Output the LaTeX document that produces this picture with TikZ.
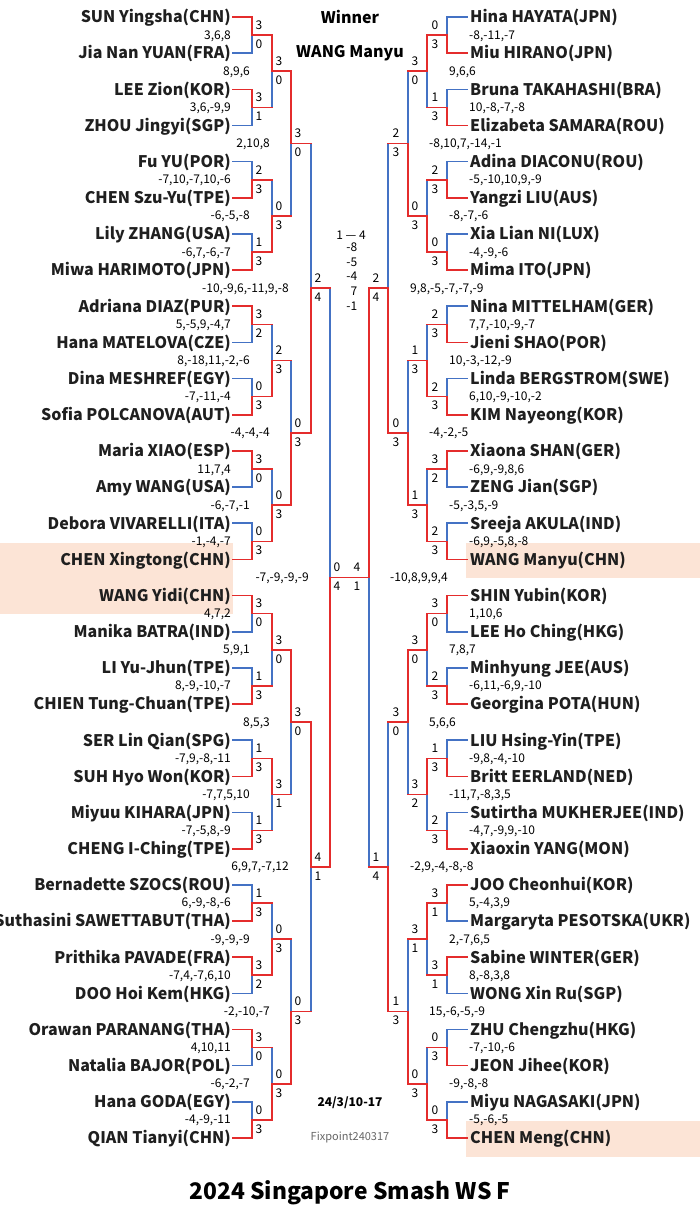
\documentclass[tikz,border=0pt]{standalone}
\usepackage{fontspec}
\setmainfont{Noto Sans CJK JP}
\definecolor{wc}{RGB}{228,44,44}
\definecolor{lc}{RGB}{68,114,196}
\definecolor{hl}{RGB}{252,228,214}
\tikzset{
 win/.style={draw=wc,line width=1.6pt,line cap=rect},
 lose/.style={draw=lc,line width=1.6pt,line cap=rect},
 pname/.style={font=\bfseries\fontsize{16}{16}\selectfont,inner sep=0pt,text=black!88},
 gsc/.style={font=\fontsize{12}{12}\selectfont,inner sep=0pt},
 lab/.style={font=\fontsize{12}{12}\selectfont,inner sep=0pt},
 head/.style={font=\bfseries\fontsize{16}{16}\selectfont,inner sep=0pt},
}
\newcommand\Round[5]{%
  \foreach \a/\b/\g [count=\m from 0] in {#5} {
    \pgfmathsetmacro\sp{36.1613*2^(#1-1)}
    \pgfmathsetmacro\ya{17+36.1613*(2^#1*\m+(2^(#1-1)-1)/2)}
    \pgfmathsetmacro\yb{\ya+\sp}
    \pgfmathsetmacro\j{\ya+\sp/2}
    \ifnum\a>\b \def\ct{win}\def\cb{lose}\else\def\ct{lose}\def\cb{win}\fi
    \ifnum#1=1
      \draw[\ct] (#2,\ya) -- (#3,\ya) -- (#3,\j);
      \draw[\cb] (#2,\yb) -- (#3,\yb) -- (#3,\j);
    \else
      \draw[\ct] (#3,\ya) -- (#3,\j);
      \draw[\cb] (#3,\yb) -- (#3,\j);
      \draw[win] (#2,\ya) -- (#3,\ya);
      \draw[win] (#2,\yb) -- (#3,\yb);
    \fi
    \if#4L
      \node[lab] (#4t#1-\m) at (#3+7,\j-10) {\a};
      \node[lab] (#4b#1-\m) at (#3+7,\j+9) {\b};
      \node[gsc,anchor=base east] (#4g#1-\m) at (#2-2,\j+4) {\g};
    \else
      \node[lab] (#4t#1-\m) at (#3-12,\j-10) {\a};
      \node[lab] (#4b#1-\m) at (#3-12,\j+9) {\b};
      \node[gsc,anchor=base west] (#4g#1-\m) at (#2+2,\j+4) {\g};
    \fi
  }%
}
\begin{document}
\begin{tikzpicture}[x=1pt,y=-1pt]
\useasboundingbox (0,0) rectangle (700,1230);
% highlighted semifinalists
\fill[hl] (0,543) rectangle (233,614);
\fill[hl] (466,543) rectangle (700,578);
\fill[hl] (466,1121) rectangle (700,1157);
% left bracket
\Round{1}{233}{252}{L}{3/0/{3,6,8},3/1/{3,6,-9,9},2/3/{-7,10,-7,10,-6},1/3/{-6,7,-6,-7},3/2/{5,-5,9,-4,7},0/3/{-7,-11,-4},3/0/{11,7,4},0/3/{-1,-4,-7},3/0/{4,7,2},1/3/{8,-9,-10,-7},1/3/{-7,9,-8,-11},1/3/{-7,-5,8,-9},1/3/{6,-9,-8,-6},3/2/{-7,4,-7,6,10},3/0/{4,10,11},0/3/{-4,-9,-11}}
\Round{2}{252}{272}{L}{3/0/{8,9,6},0/3/{-6,-5,-8},2/3/{8,-18,11,-2,-6},0/3/{-6,-7,-1},3/0/{5,9,1},3/1/{-7,7,5,10},0/3/{-9,-9,-9},0/3/{-6,-2,-7}}
\Round{3}{272}{291}{L}{3/0/{2,10,8},0/3/{-4,-4,-4},3/0/{8,5,3},0/3/{-2,-10,-7}}
\Round{4}{291}{311}{L}{2/4/{-10,-9,6,-11,9,-8},4/1/{6,9,7,-7,12}}
\Round{5}{311}{330}{L}{0/4/{-7,-9,-9,-9}}
% right bracket
\Round{1}{467}{447}{R}{0/3/{-8,-11,-7},1/3/{10,-8,-7,-8},2/3/{-5,-10,10,9,-9},0/3/{-4,-9,-6},2/3/{7,7,-10,-9,-7},2/3/{6,10,-9,-10,-2},3/2/{-6,9,-9,8,6},2/3/{-6,9,-5,8,-8},3/0/{1,10,6},2/3/{-6,11,-6,9,-10},1/3/{-9,8,-4,-10},2/3/{-4,7,-9,9,-10},3/1/{5,-4,3,9},3/1/{8,-8,3,8},0/3/{-7,-10,-6},0/3/{-5,-6,-5}}
\Round{2}{447}{427}{R}{3/0/{9,6,6},0/3/{-8,-7,-6},1/3/{10,-3,-12,-9},1/3/{-5,-3,5,-9},3/0/{7,8,7},3/2/{-11,7,-8,3,5},3/1/{2,-7,6,5},0/3/{-9,-8,-8}}
\Round{3}{427}{408}{R}{2/3/{-8,10,7,-14,-1},0/3/{-4,-2,-5},3/0/{5,6,6},1/3/{15,-6,-5,-9}}
\Round{4}{408}{388}{R}{2/4/{9,8,-5,-7,-7,-9},1/4/{-2,9,-4,-8,-8}}
\Round{5}{388}{369}{R}{4/1/{-10,8,9,9,4}}
% final
\coordinate (LF) at (330,577.5);
\coordinate (RF) at (369,577.5);
\draw[win] (LF) -- (RF);
% player names
\foreach \n [count=\i from 0] in {SUN Yingsha(CHN),%
Jia Nan YUAN(FRA),%
LEE Zion(KOR),%
ZHOU Jingyi(SGP),%
Fu YU(POR),%
CHEN Szu-Yu(TPE),%
Lily ZHANG(USA),%
Miwa HARIMOTO(JPN),%
Adriana DIAZ(PUR),%
Hana MATELOVA(CZE),%
Dina MESHREF(EGY),%
Sofia POLCANOVA(AUT),%
Maria XIAO(ESP),%
Amy WANG(USA),%
Debora VIVARELLI(ITA),%
CHEN Xingtong(CHN),%
WANG Yidi(CHN),%
Manika BATRA(IND),%
LI Yu-Jhun(TPE),%
CHIEN Tung-Chuan(TPE),%
SER Lin Qian(SPG),%
SUH Hyo Won(KOR),%
Miyuu KIHARA(JPN),%
CHENG I-Ching(TPE),%
Bernadette SZOCS(ROU),%
Suthasini SAWETTABUT(THA),%
Prithika PAVADE(FRA),%
DOO Hoi Kem(HKG),%
Orawan PARANANG(THA),%
Natalia BAJOR(POL),%
Hana GODA(EGY),%
QIAN Tianyi(CHN)}{
  \pgfmathsetmacro\yy{17+36.1613*\i+5.8}
  \node[pname,anchor=base east] (Lp\i) at (231,\yy) {\n};
}
\foreach \n [count=\i from 0] in {Hina HAYATA(JPN),%
Miu HIRANO(JPN),%
Bruna TAKAHASHI(BRA),%
Elizabeta SAMARA(ROU),%
Adina DIACONU(ROU),%
Yangzi LIU(AUS),%
Xia Lian NI(LUX),%
Mima ITO(JPN),%
Nina MITTELHAM(GER),%
Jieni SHAO(POR),%
Linda BERGSTROM(SWE),%
KIM Nayeong(KOR),%
Xiaona SHAN(GER),%
ZENG Jian(SGP),%
Sreeja AKULA(IND),%
WANG Manyu(CHN),%
SHIN Yubin(KOR),%
LEE Ho Ching(HKG),%
Minhyung JEE(AUS),%
Georgina POTA(HUN),%
LIU Hsing-Yin(TPE),%
Britt EERLAND(NED),%
Sutirtha MUKHERJEE(IND),%
Xiaoxin YANG(MON),%
JOO Cheonhui(KOR),%
Margaryta PESOTSKA(UKR),%
Sabine WINTER(GER),%
WONG Xin Ru(SGP),%
ZHU Chengzhu(HKG),%
JEON Jihee(KOR),%
Miyu NAGASAKI(JPN),%
CHEN Meng(CHN)}{
  \pgfmathsetmacro\yy{17+36.1613*\i+5.8}
  \node[pname,anchor=base west] (Rp\i) at (470,\yy) {\n};
}
% centre texts
\node[head] (winner) at (350,17) {Winner};
\node[head] (champ) at (350,53) {WANG Manyu};
\node[gsc] (fin) at (351,235) {1 — 4};
\node[gsc,anchor=base east] (f1) at (357.5,252) {-8};
\node[gsc,anchor=base east] (f2) at (357.5,266.5) {-5};
\node[gsc,anchor=base east] (f3) at (357.5,281) {-4};
\node[gsc,anchor=base east] (f4) at (357.5,295.5) {7};
\node[gsc,anchor=base east] (f5) at (357.5,310) {-1};
\node[font=\bfseries\fontsize{12}{12}\selectfont,inner sep=0pt] (date) at (350,1103) {24/3/10-17};
\node[font=\fontsize{11}{11}\selectfont,inner sep=0pt,text=black!60] (fix) at (350,1137) {Fixpoint240317};
\node[font=\bfseries\fontsize{22.8}{22.8}\selectfont,inner sep=0pt] (title) at (350,1193) {2024 Singapore Smash WS F};
\end{tikzpicture}
\end{document}
